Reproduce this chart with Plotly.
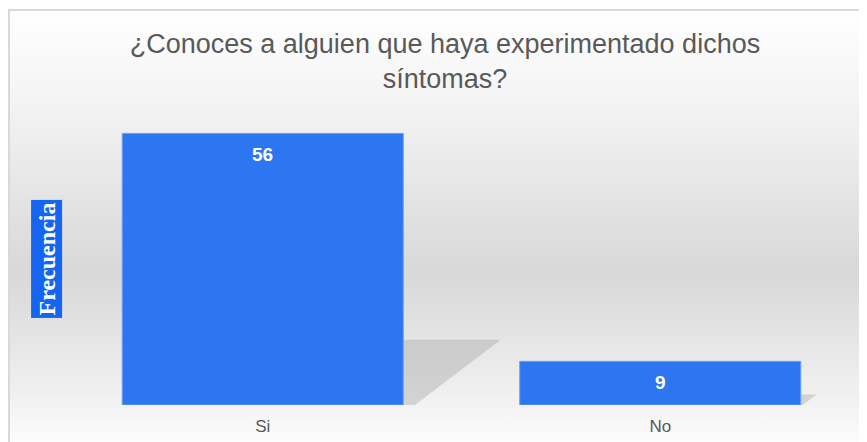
import base64

import plotly.graph_objects as go


# ---------------------------------------------------
# DATA
# ---------------------------------------------------

categorias = ["Si", "No"]
frecuencia = [56, 9]

titulo = "¿Conoces a alguien que haya experimentado dichos<br>síntomas?"
eje_y = "Frecuencia"


# ---------------------------------------------------
# BACKGROUND GRADIENT (svg data uri, no network)
# ---------------------------------------------------

svg = (
    '<svg xmlns="http://www.w3.org/2000/svg" width="100" height="100" '
    'preserveAspectRatio="none">'
    '<defs><linearGradient id="g" x1="0" y1="0" x2="0" y2="1">'
    '<stop offset="0" stop-color="#ffffff"/>'
    '<stop offset="0.25" stop-color="#f1f1f1"/>'
    '<stop offset="0.6" stop-color="#d8d8d8"/>'
    '<stop offset="0.88" stop-color="#f0f0f0"/>'
    '<stop offset="1" stop-color="#fdfdfd"/>'
    '</linearGradient></defs>'
    '<rect width="100" height="100" fill="url(#g)"/></svg>'
)
fondo = "data:image/svg+xml;base64," + base64.b64encode(svg.encode()).decode()


# ---------------------------------------------------
# BARS
# ---------------------------------------------------

fig = go.Figure()

fig.add_trace(
    go.Bar(
        x=categorias,
        y=frecuencia,
        marker=dict(
            color="#2d76f1",
            line=dict(color="#6c9ff5", width=1)
        ),
        width=0.707,
        hoverinfo="x+y"
    )
)

# value labels near the top of each bar
for cat, val in zip(categorias, frecuencia):
    fig.add_annotation(
        x=cat,
        y=val,
        text=f"<b>{val}</b>",
        showarrow=False,
        yanchor="middle",
        yshift=-21,
        font=dict(family="Liberation Sans, Arial", size=19, color="white")
    )

# perspective shadow behind each bar
mitad = 0.707 / 2
for i, val in enumerate(frecuencia):
    alto = val * 0.24
    largo = val / 56 * 0.245
    x0 = i + mitad
    fig.add_shape(
        type="path",
        path=(
            f"M {x0},{alto} L {x0 + largo},{alto} "
            f"L {x0 + largo * 0.12},0 L {x0},0 Z"
        ),
        xref="x",
        yref="y",
        fillcolor="rgba(150,150,150,0.33)",
        line=dict(width=0),
        layer="below"
    )


# ---------------------------------------------------
# LAYOUT
# ---------------------------------------------------

fig.update_layout(
    width=867,
    height=442,
    paper_bgcolor="white",
    plot_bgcolor="rgba(0,0,0,0)",
    showlegend=False,
    bargap=0.293,
    margin=dict(l=56, r=16, t=106, b=45),
    title=dict(
        text=titulo,
        x=0.504,
        xanchor="center",
        y=0.899,
        yanchor="middle",
        font=dict(family="Liberation Sans, Arial", size=27, color="#595959")
    ),
    images=[
        dict(
            source=fondo,
            xref="paper",
            yref="paper",
            x=-0.0692,
            y=1.357,
            sizex=1.08,
            sizey=1.5,
            xanchor="left",
            yanchor="top",
            sizing="stretch",
            layer="below"
        )
    ]
)

# chart border
fig.add_shape(
    type="rect",
    xref="paper",
    yref="paper",
    x0=-0.0692,
    y0=-0.3,
    x1=1.2,
    y1=1.357,
    line=dict(color="#d9d9d9", width=2),
    fillcolor="rgba(0,0,0,0)",
    layer="above"
)

# y axis title as a blue box
fig.add_annotation(
    x=-0.022,
    xref="paper",
    xanchor="center",
    y=0.502,
    yref="paper",
    yanchor="middle",
    text="<b>" + eje_y + "</b>",
    textangle=-90,
    showarrow=False,
    bgcolor="#1565f0",
    borderpad=2,
    font=dict(family="Liberation Serif, Times New Roman", size=24, color="white")
)

fig.update_xaxes(
    showgrid=False,
    showline=False,
    ticks="",
    ticklabelstandoff=9,
    tickfont=dict(family="Liberation Sans, Arial", size=17, color="#595959")
)

fig.update_yaxes(
    range=[0, 60],
    showgrid=False,
    zeroline=False,
    showticklabels=False,
    ticks=""
)

fig.write_html("out.html")
